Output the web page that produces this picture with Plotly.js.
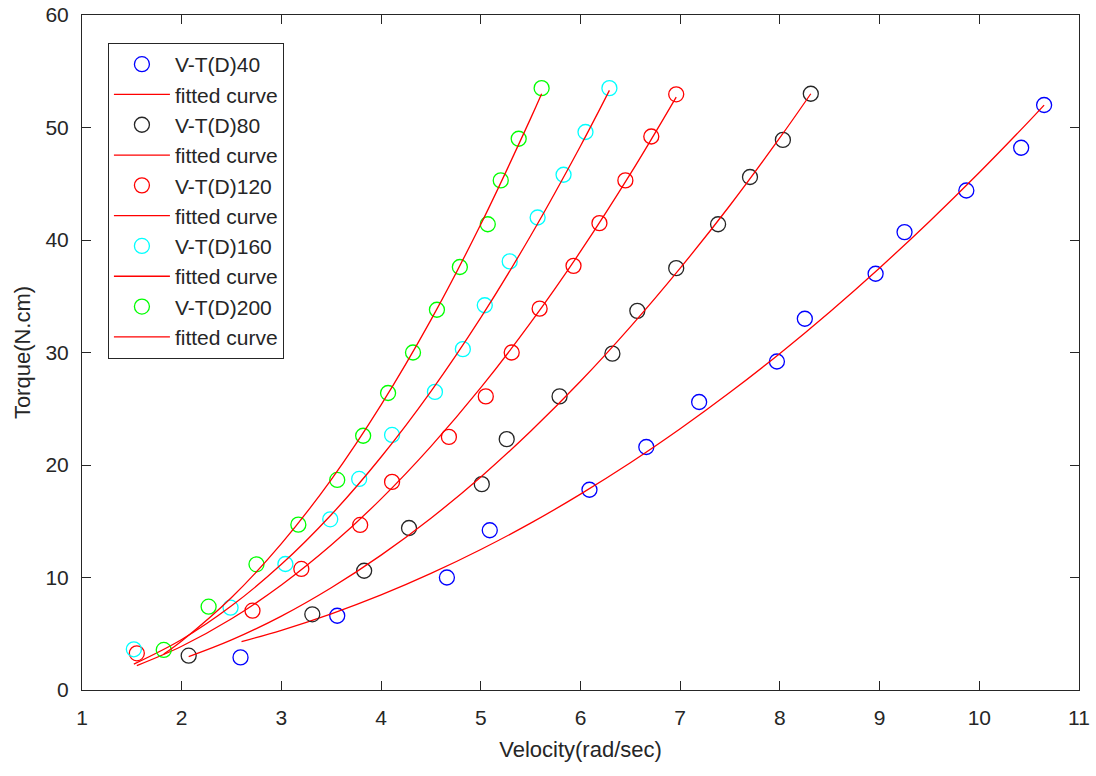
<!DOCTYPE html>
<html>
<head>
<meta charset="utf-8">
<script src="https://cdn.plot.ly/plotly-3.0.1.min.js"></script>
<style>html,body{margin:0;padding:0;background:#fff;}#chart{width:1096px;height:776px;}</style>
</head>
<body>
<div id="chart"></div>
<script>
// Measured data (Velocity rad/sec vs Torque N.cm)
const seriesNames = ["V-T(D)40", "V-T(D)80", "V-T(D)120", "V-T(D)160", "V-T(D)200"];
const fitName = "fitted curve";

const d40x = [2.59, 3.56, 4.66, 5.09, 6.09, 6.66, 7.19, 7.97, 8.25, 8.96, 9.25, 9.87, 10.42, 10.65];
const d40y = [2.9, 6.6, 10.0, 14.2, 17.8, 21.6, 25.6, 29.2, 33.0, 37.0, 40.7, 44.4, 48.2, 52.0];
const d80x = [2.07, 3.31, 3.83, 4.28, 5.01, 5.26, 5.79, 6.32, 6.57, 6.96, 7.38, 7.70, 8.03, 8.31];
const d80y = [3.05, 6.73, 10.6, 14.4, 18.3, 22.3, 26.1, 29.9, 33.7, 37.5, 41.4, 45.6, 48.9, 53.0];
const d120x = [1.55, 2.71, 3.20, 3.79, 4.11, 4.68, 5.05, 5.31, 5.59, 5.93, 6.19, 6.45, 6.71, 6.96];
const d120y = [3.26, 7.05, 10.76, 14.67, 18.5, 22.5, 26.1, 30.0, 33.9, 37.7, 41.5, 45.3, 49.2, 52.95];
const d160x = [1.52, 2.49, 3.04, 3.49, 3.78, 4.11, 4.54, 4.82, 5.04, 5.29, 5.57, 5.83, 6.05, 6.29];
const d160y = [3.62, 7.32, 11.2, 15.17, 18.76, 22.67, 26.5, 30.3, 34.2, 38.1, 42.0, 45.8, 49.6, 53.5];
const d200x = [1.82, 2.27, 2.75, 3.17, 3.56, 3.82, 4.07, 4.32, 4.56, 4.79, 5.07, 5.20, 5.38, 5.61];
const d200y = [3.56, 7.41, 11.17, 14.7, 18.67, 22.6, 26.4, 30.0, 33.8, 37.6, 41.4, 45.3, 49.0, 53.5];

// Fitted curves
const f40x = [2.6, 3, 3.5, 4, 4.5, 5, 5.5, 6, 6.5, 7, 7.5, 8, 8.5, 9, 9.5, 10, 10.5, 10.65];
const f40y = [4.30, 5.31, 6.77, 8.45, 10.36, 12.49, 14.83, 17.41, 20.20, 23.22, 26.46, 29.92, 33.61, 37.52, 41.65, 46.0, 50.57, 51.99];
const f80x = [2.07, 2.5, 3, 3.5, 4, 4.5, 5, 5.5, 6, 6.5, 7, 7.5, 8, 8.31];
const f80y = [2.96, 4.45, 6.57, 9.09, 11.99, 15.27, 18.94, 23.00, 27.44, 32.28, 37.50, 43.09, 49.09, 53.0];
const f120x = [1.55, 2, 2.5, 3, 3.5, 4, 4.5, 5, 5.5, 6, 6.5, 6.96];
const f120y = [2.17, 3.89, 6.33, 9.33, 12.88, 16.99, 21.66, 26.87, 32.65, 38.98, 45.87, 52.70];
const f160x = [1.52, 2, 2.5, 3, 3.5, 4, 4.5, 5, 5.5, 6, 6.29];
const f160y = [2.30, 4.49, 7.48, 11.17, 15.58, 20.71, 26.55, 33.10, 40.38, 48.36, 53.3];
const f200x = [1.82, 2, 2.5, 3, 3.5, 4, 4.5, 5, 5.5, 5.61];
const f200y = [3.20, 4.36, 8.22, 13.01, 18.71, 25.35, 32.90, 41.40, 50.81, 53.0];

const markerColors = ["#0000ff", "#262626", "#ff0000", "#00ffff", "#00ff00"];
const dataX = [d40x, d80x, d120x, d160x, d200x];
const dataY = [d40y, d80y, d120y, d160y, d200y];
const fitX = [f40x, f80x, f120x, f160x, f200x];
const fitY = [f40y, f80y, f120y, f160y, f200y];

const traces = [];
for (let i = 0; i < seriesNames.length; i++) {
  traces.push({
    x: dataX[i], y: dataY[i], type: "scatter", mode: "markers", name: seriesNames[i],
    legendgroup: "g" + (2 * i),
    marker: {symbol: "circle-open", size: 15, color: markerColors[i], line: {width: 1.3, color: markerColors[i]}}
  });
  traces.push({
    x: fitX[i], y: fitY[i], type: "scatter", mode: "lines", name: fitName,
    legendgroup: "g" + (2 * i + 1),
    line: {color: "#ff0000", width: 1.3, shape: "spline"}
  });
}

const axisFont = {family: "Liberation Sans, Arial, sans-serif", size: 21, color: "#262626"};
const layout = {
  width: 1096, height: 776,
  margin: {l: 82, r: 17, t: 15, b: 86},
  paper_bgcolor: "#ffffff", plot_bgcolor: "#ffffff",
  showlegend: true,
  legend: {
    x: 0.026, y: 0.9585, xanchor: "left", yanchor: "top",
    bordercolor: "#262626", borderwidth: 1, bgcolor: "#ffffff",
    font: {family: "Liberation Sans, Arial, sans-serif", size: 21, color: "#262626"},
    itemwidth: 56, traceorder: "normal"
  },
  xaxis: {
    range: [1, 11], dtick: 1, tick0: 1, showgrid: false, zeroline: false,
    showline: true, linecolor: "#262626", linewidth: 1, mirror: "ticks",
    ticks: "inside", ticklen: 9, tickcolor: "#262626", tickwidth: 1,
    tickfont: axisFont, ticklabelstandoff: 9,
    title: {text: "Velocity(rad/sec)", font: {family: "Liberation Sans, Arial, sans-serif", size: 22, color: "#262626"}, standoff: 13}
  },
  yaxis: {
    range: [0, 60], dtick: 10, showgrid: false, zeroline: false,
    showline: true, linecolor: "#262626", linewidth: 1, mirror: "ticks",
    ticks: "inside", ticklen: 9, tickcolor: "#262626", tickwidth: 1,
    tickfont: axisFont, ticklabelstandoff: 8,
    title: {text: "Torque(N.cm)", font: {family: "Liberation Sans, Arial, sans-serif", size: 22, color: "#262626"}, standoff: 8}
  }
};

Plotly.newPlot("chart", traces, layout, {staticPlot: true, displayModeBar: false});
</script>
</body>
</html>
